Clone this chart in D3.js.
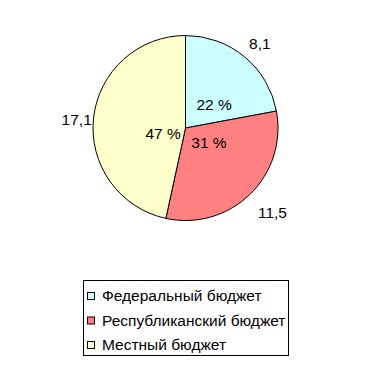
<!DOCTYPE html>
<html><head><meta charset="utf-8">
<script src="https://cdn.jsdelivr.net/npm/d3@7"></script>
<style>body{margin:0;background:#fff}svg{display:block}text{font-family:"Liberation Sans",Arial,sans-serif;font-size:15.5px;fill:#000}</style>
</head><body>
<script>
const categories = ["Федеральный бюджет", "Республиканский бюджет", "Местный бюджет"];
const values = [8.1, 11.5, 17.1];
const valueLabels = ["8,1", "11,5", "17,1"];
const colors = ["#CCFFFF", "#FF8080", "#FFFFCC"];

const W = 370, H = 366;
const svg = d3.select("body").append("svg").attr("width", W).attr("height", H);
const cx = 185.5, cy = 128, r = 92.5;
const total = d3.sum(values);
const pie = d3.pie().sort(null).value(d => d)(values);
const arc = d3.arc().innerRadius(0).outerRadius(r);
const g = svg.append("g").attr("transform", `translate(${cx},${cy})`);
g.selectAll("path").data(pie).join("path")
  .attr("d", arc).attr("fill", (d, i) => colors[i])
  .attr("stroke", "#000").attr("stroke-width", 1);

// label placement: [angle offset (deg) from slice bisector, radius factor]
const pctPlace = [[11, 0.40], [-13.5, 0.30], [-21, 0.25]];
const valPlace = [[1.5, 1.22], [-1.7, 1.31], [-1.8, 1.18]];
function polar(d, p) {
  const a = (d.startAngle + d.endAngle) / 2 + p[0] * Math.PI / 180;
  return [Math.sin(a) * r * p[1], -Math.cos(a) * r * p[1]];
}
g.selectAll("text.pct").data(pie).join("text").attr("class", "pct")
  .attr("transform", (d, i) => `translate(${polar(d, pctPlace[i])})`)
  .attr("text-anchor", "middle").attr("dy", "0.35em")
  .text(d => Math.round(d.data / total * 100) + " %");
g.selectAll("text.val").data(pie).join("text").attr("class", "val")
  .attr("transform", (d, i) => `translate(${polar(d, valPlace[i])})`)
  .attr("text-anchor", "middle").attr("dy", "0.35em")
  .text((d, i) => valueLabels[i]);

const lg = svg.append("g");
lg.append("rect").attr("x", 83.5).attr("y", 280.5).attr("width", 205).attr("height", 75)
  .attr("fill", "#fff").attr("stroke", "#000");
const ly = d3.scalePoint().domain(categories).range([296, 345]);
categories.forEach((c, i) => {
  lg.append("rect").attr("x", 87.5).attr("y", ly(c) - 3.5).attr("width", 7).attr("height", 7)
    .attr("fill", colors[i]).attr("stroke", "#000");
  lg.append("text").attr("x", 102).attr("y", ly(c)).attr("dy", "0.35em").text(c);
});
</script>
</body></html>
